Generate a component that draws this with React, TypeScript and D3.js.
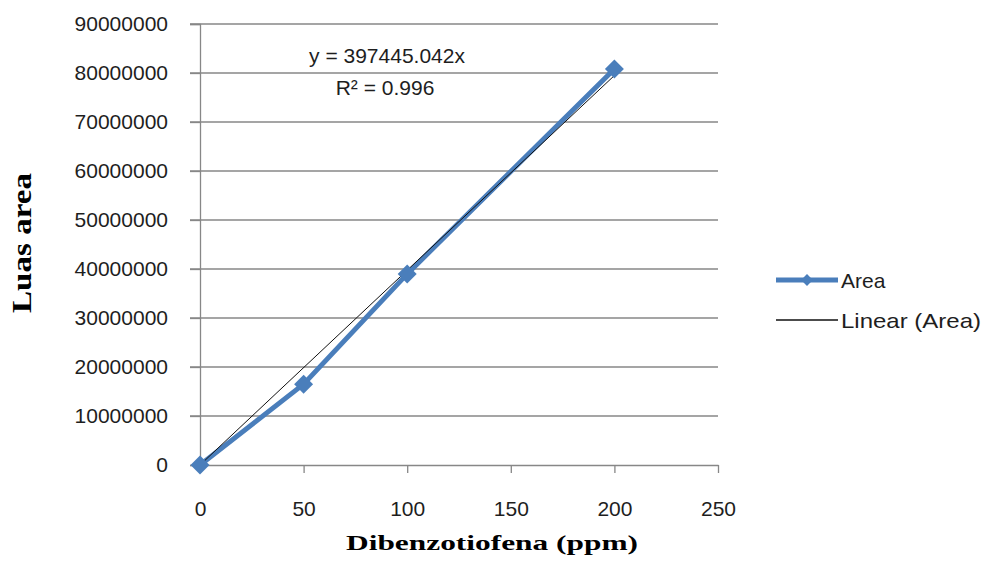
import React, { useEffect, useRef } from 'react';
import * as d3 from 'd3';

// data
const concentrations = [0, 50, 100, 200];
const areas = [0, 16500000, 39000000, 80800000];
const slope = 397445.042;
const xTicks = [0, 50, 100, 150, 200, 250];
const yTicks = [0, 10000000, 20000000, 30000000, 40000000, 50000000, 60000000, 70000000, 80000000, 90000000];

const width = 987, height = 578;
const margin = { top: 24, right: 269, bottom: 113, left: 200 };
const blue = '#4a7ebb';
const grid = '#878787';
const font = '"Liberation Sans", Arial, sans-serif';
const fontSize = 21;

export default function App() {
  const ref = useRef<SVGSVGElement>(null);

  useEffect(() => {
    const svg = d3.select(ref.current);
    svg.selectAll('*').remove();

    const x = d3.scaleLinear().domain([0, 250]).range([margin.left, width - margin.right]);
    const y = d3.scaleLinear().domain([0, 90000000]).range([height - margin.bottom, margin.top]);

    // gridlines
    svg.append('g')
      .selectAll('line')
      .data(yTicks.slice(1))
      .enter().append('line')
        .attr('x1', x(0) - 10).attr('x2', x(250))
        .attr('y1', d => y(d)).attr('y2', d => y(d))
        .attr('stroke', grid).attr('stroke-width', 1.3);

    // y axis
    const yAxis = svg.append('g')
      .attr('transform', 'translate(' + x(0) + ',0)')
      .call(d3.axisLeft(y).tickValues(yTicks).tickSize(10).tickPadding(22).tickFormat(d3.format('d')));
    yAxis.select('.domain').attr('stroke', grid).attr('stroke-width', 1.3);
    yAxis.selectAll('.tick line').attr('stroke', grid).attr('stroke-width', 1.3);
    yAxis.selectAll('text').attr('font-family', font).attr('font-size', fontSize).attr('fill', '#1e1e1e');

    // x axis
    const xAxis = svg.append('g')
      .attr('transform', 'translate(0,' + y(0) + ')')
      .call(d3.axisBottom(x).tickValues(xTicks).tickSize(8).tickSizeOuter(0).tickPadding(28));
    xAxis.select('.domain').attr('stroke', grid).attr('stroke-width', 1.3);
    xAxis.selectAll('.tick line').attr('stroke', grid).attr('stroke-width', 1.3);
    xAxis.selectAll('text').attr('font-family', font).attr('font-size', fontSize).attr('fill', '#1e1e1e');

    // data line
    const line = d3.line<number>().x((d, i) => x(concentrations[i])).y(d => y(d));
    svg.append('path')
      .datum(areas)
      .attr('d', line)
      .attr('fill', 'none')
      .attr('stroke', blue)
      .attr('stroke-width', 5)
      .attr('stroke-linejoin', 'round');

    // trendline
    svg.append('line')
      .attr('x1', x(0)).attr('y1', y(0))
      .attr('x2', x(200)).attr('y2', y(slope * 200))
      .attr('stroke', '#111').attr('stroke-width', 1);

    // markers
    const square = d3.symbol().type(d3.symbolSquare);
    svg.selectAll('.marker')
      .data(areas)
      .enter().append('path')
        .attr('class', 'marker')
        .attr('d', square.size(180)())
        .attr('transform', (d, i) => 'translate(' + x(concentrations[i]) + ',' + y(d) + ') rotate(45)')
        .attr('fill', blue);

    // equation
    svg.append('text')
      .attr('x', 387).attr('y', 63)
      .attr('text-anchor', 'middle')
      .attr('font-family', font).attr('font-size', fontSize).attr('fill', '#1e1e1e')
      .text('y = ' + slope.toFixed(3) + 'x');
    svg.append('text')
      .attr('x', 385).attr('y', 95)
      .attr('text-anchor', 'middle')
      .attr('font-family', font).attr('font-size', fontSize).attr('fill', '#1e1e1e')
      .text('R² = 0.996');

    // axis titles
    svg.append('text')
      .attr('x', 492).attr('y', 550)
      .attr('text-anchor', 'middle')
      .attr('font-family', '"Liberation Serif", "Times New Roman", serif')
      .attr('font-weight', 'bold').attr('font-size', 21)
      .attr('textLength', 292).attr('lengthAdjust', 'spacingAndGlyphs')
      .text('Dibenzotiofena (ppm)');
    svg.append('text')
      .attr('transform', 'translate(31,243) rotate(-90)')
      .attr('text-anchor', 'middle')
      .attr('font-family', '"Liberation Serif", "Times New Roman", serif')
      .attr('font-weight', 'bold').attr('font-size', 27)
      .attr('textLength', 140).attr('lengthAdjust', 'spacingAndGlyphs')
      .text('Luas area');

    // legend
    const lg = svg.append('g');
    lg.append('line').attr('x1', 776).attr('x2', 838).attr('y1', 280).attr('y2', 280)
      .attr('stroke', blue).attr('stroke-width', 5);
    lg.append('path').attr('d', square.size(70)())
      .attr('transform', 'translate(807,280) rotate(45)').attr('fill', blue);
    lg.append('text').attr('x', 841).attr('y', 288)
      .attr('font-family', font).attr('font-size', fontSize).attr('fill', '#1e1e1e').text('Area');
    lg.append('line').attr('x1', 776).attr('x2', 838).attr('y1', 320).attr('y2', 320)
      .attr('stroke', '#111').attr('stroke-width', 1.3);
    lg.append('text').attr('x', 841).attr('y', 328)
      .attr('font-family', font).attr('font-size', fontSize).attr('fill', '#1e1e1e')
      .attr('textLength', 140).attr('lengthAdjust', 'spacingAndGlyphs')
      .text('Linear (Area)');
  }, []);

  return (
    <svg ref={ref} width={width} height={height}
      style={{ position: 'absolute', left: 0, top: 0, background: '#fff' }} />
  );
}
